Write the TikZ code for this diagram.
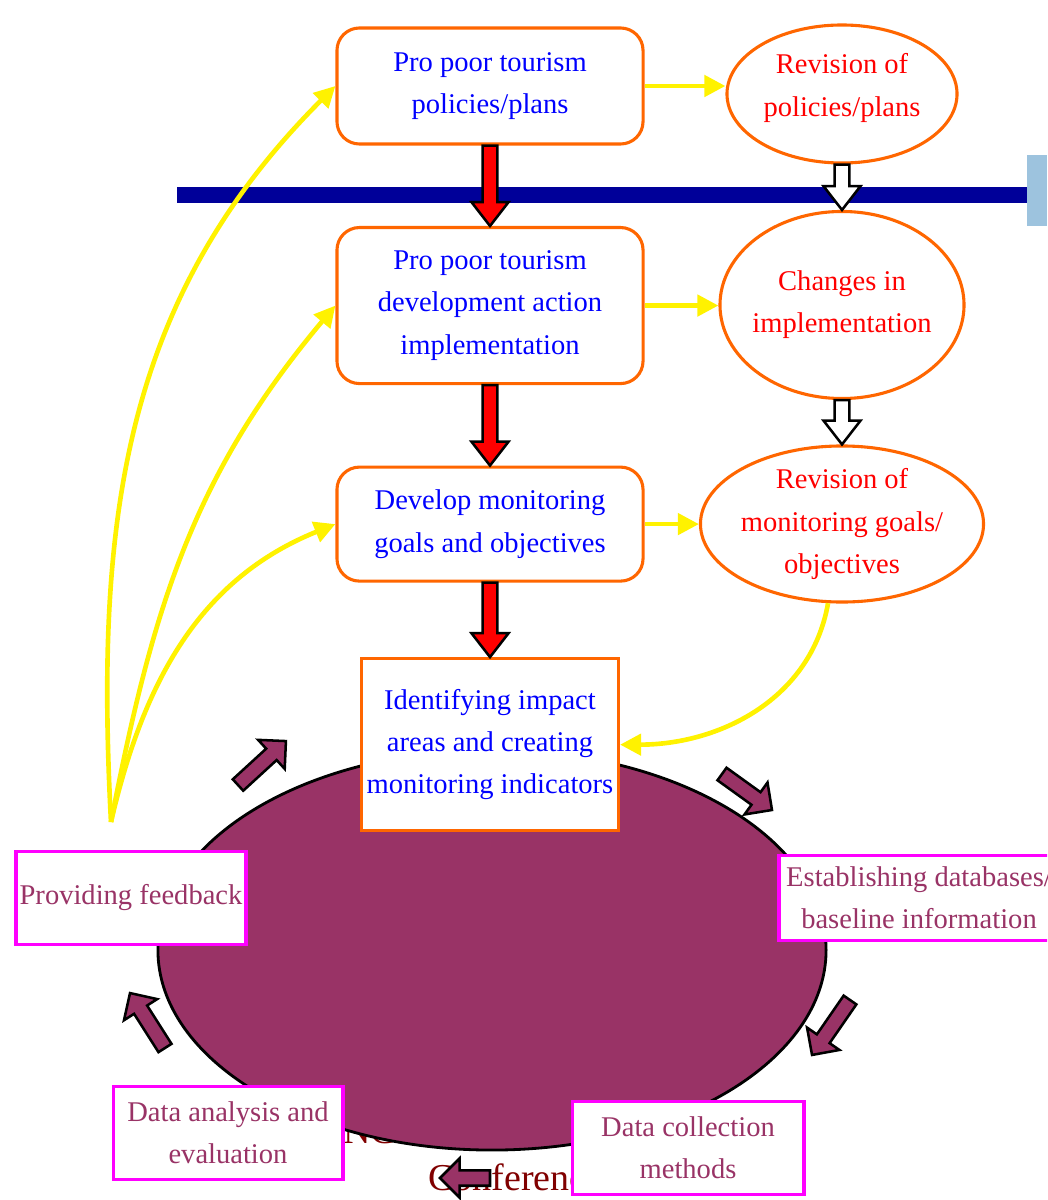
\documentclass[tikz,border=0pt]{standalone}
\usepackage{fontspec}
\setmainfont{Liberation Serif}
\usetikzlibrary{
  arrows.meta,
  calc,
  positioning,
  shapes.geometric
}
\definecolor{boxorange}{RGB}{255,102,0}
\definecolor{barnavy}{RGB}{0,0,153}
\definecolor{barlight}{RGB}{157,195,222}
\definecolor{cycleplum}{RGB}{153,51,102}
\definecolor{stagepink}{RGB}{255,0,255}
\definecolor{ghostred}{RGB}{128,0,0}
\newcommand{\boxfont}{\fontsize{20.3}{30}\selectfont}
\newcommand{\ghostfont}{\fontsize{27}{32}\selectfont}

\tikzset{
  fat shaft/.store in=\fatshaft,
  fat head/.store in=\fathead,
  fat headlen/.store in=\fatheadlen,
  fat shaft=5pt, fat head=13pt, fat headlen=17pt
}
% block arrow from #2 to #3
\newcommand{\fatarrow}[3]{%
  \path[#1] let \p1=(#2), \p2=(#3),
      \n1={atan2(\y2-\y1,\x2-\x1)}, \n2={veclen(\x2-\x1,\y2-\y1)} in
    {[shift={(\p1)}, rotate=\n1]
      (0pt,-\fatshaft) -- ({\n2-\fatheadlen},-\fatshaft)
      -- ({\n2-\fatheadlen},-\fathead) -- (\n2,0pt)
      -- ({\n2-\fatheadlen},\fathead) -- ({\n2-\fatheadlen},\fatshaft)
      -- (0pt,\fatshaft) -- cycle};
}

\begin{document}
\begin{tikzpicture}[
  x=0.025cm, y=-0.025cm,
  pbox/.style={draw=boxorange, line width=2.2pt, rounded corners=16pt, fill=white,
               minimum width=7.65cm, align=center, text=blue, font=\boxfont, inner sep=0pt},
  pell/.style={ellipse, draw=boxorange, line width=2.2pt, fill=white, inner sep=0pt},
  redtxt/.style={align=center, text=red, font=\boxfont, inner sep=0pt},
  stage/.style={draw=stagepink, line width=2.8pt, fill=white, align=center,
                text=cycleplum, font=\boxfont, inner sep=0pt, minimum height=2.325cm},
  ghost/.style={text=ghostred, font=\ghostfont, inner sep=0pt},
  yarr/.style={draw=yellow, line width=3.3pt, -{Triangle[length=15pt,width=15pt]}},
  redarr/.style={draw=black, line width=1.8pt, fill=red,
                 fat shaft=5.2pt, fat head=13.2pt, fat headlen=17pt},
  whitearr/.style={redarr, fill=white},
  plumarr/.style={draw=black, line width=1.8pt, fill=cycleplum,
                  fat shaft=5.5pt, fat head=14pt, fat headlen=14pt},
  node distance=2.01cm
]
\clip (0,0) rectangle (1047,1200);

% text left behind the cycle
\node[ghost, anchor=base west] (ghost1) at (343,1143) {NC};
\node[ghost, anchor=base west] (ghost2) at (428,1190) {Conference};

\fill[barnavy] (177,187) rectangle (1047,203);
\fill[barlight] (1027,155) rectangle (1047,226);

\node[ellipse, draw=black, line width=2pt, fill=cycleplum, inner sep=0pt,
      minimum width=16.7cm, minimum height=10cm] (cycle) at (492,950) {};

\node[pbox, minimum height=2.9cm] (policy) at (490,86) {Pro poor tourism\\policies/plans};
\node[pbox, minimum height=3.9cm, below=of policy] (action) {Pro poor tourism\\development action\\implementation};
\node[pbox, minimum height=2.85cm, below=of action] (goals) {Develop monitoring\\goals and objectives};
\node[pbox, sharp corners, minimum width=6.425cm, minimum height=4.3cm, below=1.86cm of goals] (indic) {Identifying impact\\areas and creating\\monitoring indicators};

\node[pell, minimum width=5.75cm, minimum height=3.45cm] (revpol) at (842,94) {};
\node[redtxt] (revpoltxt) at (842,88) {Revision of\\policies/plans};
\node[pell, minimum width=6.1cm, minimum height=4.675cm] (change) at (842,305) {};
\node[redtxt] (changetxt) at (change) {Changes in\\implementation};
\node[pell, minimum width=7.075cm, minimum height=3.9cm] (revgoal) at (842,524) {};
\node[redtxt] (revgoaltxt) at (revgoal) {Revision of\\monitoring goals/\\objectives};

\node[stage, minimum width=5.75cm] (feedback) at (131,898) {Providing feedback};
\node[stage, minimum width=7cm, minimum height=2.125cm] (database) at (919,898) {Establishing databases/\\baseline information};
\node[stage, minimum width=5.775cm] (collect) at (688,1148) {Data collection\\methods};
\node[stage, minimum width=5.725cm] (analysis) at (228,1133) {Data analysis and\\evaluation};

% main chain
\fatarrow{redarr}{policy.south}{action.north}
\fatarrow{redarr}{action.south}{goals.north}
\fatarrow{redarr}{goals.south}{indic.north}
\fatarrow{whitearr}{revpol.south}{change.north}
\fatarrow{whitearr}{change.south}{revgoal.north}

% revisions and feedback
\coordinate (fbsrc) at (111,822);
\draw[yarr] (policy.east) -- (policy.east -| revpol.west);
\draw[yarr] (action.east) -- (action.east -| change.west);
\draw[yarr] (goals.east) -- (goals.east -| revgoal.west);
\draw[yarr] (revgoal.260) to[out=-100, in=0] (indic.east);
\draw[yarr] (fbsrc) to[out=93, in=-135] (policy.west);
\draw[yarr] (fbsrc) to[out=79, in=-130] (action.west);
\draw[yarr] (fbsrc) to[out=77, in=-158] (goals.west);

% cycle arrows
\fatarrow{plumarr}{238,785}{286,741}
\fatarrow{plumarr}{722,774}{772,810}
\fatarrow{plumarr}{850,1000}{812,1055}
\fatarrow{plumarr}{490,1178}{440,1178}
\fatarrow{plumarr}{165,1048}{130,993}

\end{tikzpicture}
\end{document}
